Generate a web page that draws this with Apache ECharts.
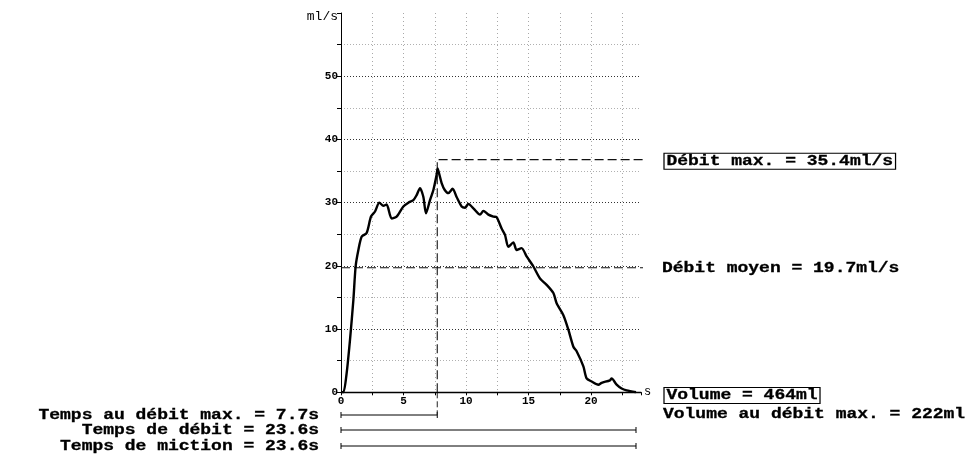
<!DOCTYPE html>
<html>
<head>
<meta charset="utf-8">
<script src="https://cdn.jsdelivr.net/npm/echarts@6/dist/echarts.min.js"></script>
<style>
html,body{margin:0;padding:0;background:#fff;}
#main{width:968px;height:455px;}
</style>
</head>
<body>
<div id="main"></div>
<script>
// ---- data ----
const times = [0, 0.19, 0.45, 0.72, 0.99, 1.17, 1.39, 1.65, 2.05, 2.4, 2.72, 3.07, 3.39, 3.65, 4.05, 4.45, 4.99, 5.39, 5.79, 6.05, 6.32, 6.59, 6.8, 7.12, 7.39, 7.65, 7.73, 7.85, 8.05, 8.3, 8.59, 8.93, 9.25, 9.65, 9.92, 10.19, 10.59, 11.12, 11.39, 11.79, 12.19, 12.45, 12.85, 13.12, 13.39, 13.79, 14.05, 14.45, 14.85, 15.39, 15.92, 16.45, 16.99, 17.25, 17.79, 18.19, 18.59, 18.85, 19.39, 19.65, 20.05, 20.59, 20.85, 21.52, 21.65, 22.05, 22.45, 22.85, 23.6];
const flows = [0, 0, 3.0, 8.3, 14.6, 19.9, 22.5, 24.6, 25.2, 27.8, 28.6, 30.0, 29.5, 29.7, 27.5, 27.8, 29.4, 30.0, 30.4, 31.2, 32.3, 30.9, 28.3, 30.4, 32.0, 34.4, 35.4, 34.6, 33.1, 32.0, 31.5, 32.2, 30.9, 29.4, 29.2, 29.8, 29.1, 28.1, 28.7, 28.1, 27.8, 27.7, 25.9, 24.9, 23.0, 23.7, 22.5, 22.8, 21.5, 19.9, 18.0, 17.0, 15.7, 14.1, 12.2, 9.9, 7.2, 6.5, 4.1, 2.2, 1.7, 1.2, 1.5, 1.9, 2.2, 1.2, 0.6, 0.3, 0];
const yTickLabels = ['0', '10', '20', '30', '40', '50'];
const xTickLabels = ['0', '5', '10', '15', '20'];
const qMax = 35.4;          // ml/s
const qMaxLevel = 36.8;     // level of the dashed max marker line
const tQMax = 7.7;          // s
const qMean = 19.7;         // ml/s
const flowTime = 23.6;      // s
const voidTime = 23.6;      // s
const volume = 464;         // ml
const volAtMax = 222;       // ml
const dashEnd = 24.4;       // s, where dashed markers stop
const xMax = 24, yMax = 60;

const chart = echarts.init(document.getElementById('main'));
const FONT = '"Liberation Mono", "DejaVu Sans Mono", monospace';
const curve = times.map((t, i) => [t, flows[i]]);

chart.setOption({
  animation: false,
  backgroundColor: '#fff',
  grid: {left: 341, top: 13, width: 300, height: 379.3},
  xAxis: {
    type: 'value', min: 0, max: xMax, interval: 2.5,
    name: 's', nameLocation: 'end', nameGap: 3,
    nameTextStyle: {fontFamily: FONT, fontSize: 12, color: '#000', align: 'left', verticalAlign: 'middle'},
    axisLine: {lineStyle: {color: '#000', width: 1.3}},
    axisTick: {show: true, length: 3, lineStyle: {color: '#000'}},
    axisLabel: {
      color: '#000', fontFamily: FONT, fontWeight: 'bold', fontSize: 11, margin: 3,
      formatter: v => { const s = String(v); return xTickLabels.includes(s) ? s : ''; }
    },
    splitLine: {show: true, showMaxLine: false, lineStyle: {color: '#a8a8a8', type: [1, 3], width: 1}}
  },
  yAxis: {
    type: 'value', min: 0, max: yMax, interval: 5,
    name: 'ml/s', nameLocation: 'end', nameGap: -4,
    nameTextStyle: {fontFamily: FONT, fontSize: 13, color: '#000', align: 'right', verticalAlign: 'middle', padding: [0, 3, 0, 0]},
    axisLine: {show: true, lineStyle: {color: '#000', width: 1}},
    axisTick: {show: true, length: 4, lineStyle: {color: '#000'}},
    axisLabel: {
      color: '#000', fontFamily: FONT, fontWeight: 'bold', fontSize: 11, margin: 3,
      formatter: v => { const s = String(v); return yTickLabels.includes(s) ? s : ''; }
    },
    splitLine: {show: true, showMaxLine: false, lineStyle: {color: ['#333', '#b0b0b0'], type: [1, 2], width: 1}}
  },
  series: [
    {
      type: 'line', data: curve, showSymbol: false, smooth: 0.25,
      lineStyle: {color: '#000', width: 2.4}, z: 5
    },
    {
      type: 'line', data: [[tQMax, 0], [tQMax, qMaxLevel], [dashEnd, qMaxLevel]],
      showSymbol: false, clip: false,
      lineStyle: {color: '#111', width: 1.1, type: [9, 4]}, z: 4
    },
    {
      type: 'line', data: [[0, qMean], [dashEnd, qMean]],
      showSymbol: false, clip: false,
      lineStyle: {color: '#111', width: 1.1, type: [9, 4]}, z: 4
    }
  ]
});

// ---- annotations below and to the right ----
const px = v => chart.convertToPixel({xAxisIndex: 0}, v);
const x0 = px(0), xT = px(tQMax), xF = px(flowTime), xV = px(voidTime);
const y0 = chart.convertToPixel({yAxisIndex: 0}, 0);
const rowY = [415, 430, 446];
const SX = 1.24;
const tfont = 'bold 14.5px ' + FONT;

function bracket(xa, xb, y) {
  return [
    {type: 'line', shape: {x1: xa, y1: y, x2: xb, y2: y}, style: {stroke: '#000', lineWidth: 1}},
    {type: 'line', shape: {x1: xa, y1: y - 3, x2: xa, y2: y + 3}, style: {stroke: '#000', lineWidth: 1}},
    {type: 'line', shape: {x1: xb, y1: y - 3, x2: xb, y2: y + 3}, style: {stroke: '#000', lineWidth: 1}}
  ];
}
function txt(text, x, y, align, boxed) {
  const style = {text: text, font: tfont, fill: '#000', stroke: '#000', lineWidth: 0.3, align: align, verticalAlign: 'middle'};
  if (boxed) { style.borderColor = '#000'; style.borderWidth = 1; style.padding = [1, 2, 0, 2]; }
  return {type: 'text', x: x, y: y, scaleX: SX, style: style};
}

const g = [].concat(
  bracket(x0, xT, rowY[0]),
  bracket(x0, xF, rowY[1]),
  bracket(x0, xV, rowY[2]),
  [{type: 'line', shape: {x1: xT, y1: y0, x2: xT, y2: rowY[0]}, style: {stroke: '#222', lineWidth: 1, lineDash: [6, 3]}}],
  [
    txt('Temps au débit max. = ' + tQMax + 's', 319, rowY[0], 'right'),
    txt('Temps de débit = ' + flowTime + 's', 319, rowY[1], 'right'),
    txt('Temps de miction = ' + voidTime + 's', 319, rowY[2], 'right'),
    txt('Débit max. = ' + qMax + 'ml/s', 664, chart.convertToPixel({yAxisIndex: 0}, qMaxLevel) + 1.5, 'left', true),
    txt('Débit moyen = ' + qMean + 'ml/s', 662, chart.convertToPixel({yAxisIndex: 0}, qMean) + 1, 'left'),
    txt('Volume = ' + volume + 'ml', 664, 395.5, 'left', true),
    txt('Volume au débit max. = ' + volAtMax + 'ml', 663, 414, 'left')
  ]
);
chart.setOption({graphic: {elements: g}});
</script>
</body>
</html>
